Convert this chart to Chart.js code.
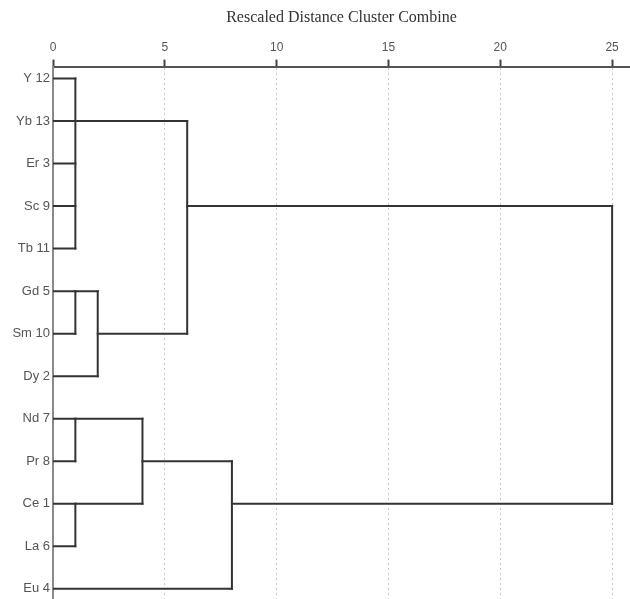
<!DOCTYPE html>
<html lang="en">
<head>
  <meta charset="UTF-8">
  <title>Dendrogram - Rescaled Distance Cluster Combine</title>
  <script src="https://cdn.jsdelivr.net/npm/chart.js"></script>
  <style>
    html, body { margin: 0; padding: 0; background: #fff; }
    #wrap { width: 630px; height: 599px; }
  </style>
</head>
<body>
  <div id="wrap"><canvas id="dendro"></canvas></div>

  <script>
    // leaves, top to bottom
    const leaves = ['Y 12', 'Yb 13', 'Er 3', 'Sc 9', 'Tb 11', 'Gd 5', 'Sm 10', 'Dy 2', 'Nd 7', 'Pr 8', 'Ce 1', 'La 6', 'Eu 4'];

    // merges: children < 13 are leaves, >= 13 are earlier merges (index - 13)
    const mergeChildren = [[0, 1, 2, 3, 4], [5, 6], [14, 7], [13, 15], [8, 9], [10, 11], [17, 18], [19, 12], [16, 20]];
    const mergeDistance = [1, 1, 2, 6, 1, 1, 4, 8, 25];
    // leaf row the merged cluster continues from
    const mergeRow = [1, 5, 6, 3, 8, 10, 9, 10, 3];

    const xTicks = [0, 5, 10, 15, 20, 25];

    const nLeaf = leaves.length;
    const lineColor = '#333';

    function rowOf(c) { return c < nLeaf ? c : mergeRow[c - nLeaf]; }
    function heightOf(c) { return c < nLeaf ? 0 : mergeDistance[c - nLeaf]; }

    const segments = [];
    mergeChildren.forEach((kids, m) => {
      const d = mergeDistance[m];
      const rows = kids.map(rowOf);
      kids.forEach(c => {
        segments.push([{ x: heightOf(c), y: rowOf(c) }, { x: d, y: rowOf(c) }]);
      });
      segments.push([{ x: d, y: Math.min(...rows) }, { x: d, y: Math.max(...rows) }]);
    });

    const datasets = segments.map(seg => ({
      data: seg,
      showLine: true,
      borderColor: lineColor,
      borderWidth: 2,
      borderCapStyle: 'square',
      pointRadius: 0,
      fill: false
    }));

    const ctx = document.getElementById('dendro').getContext('2d');
    new Chart(ctx, {
      type: 'scatter',
      data: { datasets: datasets },
      options: {
        responsive: true,
        maintainAspectRatio: false,
        animation: false,
        layout: { padding: { top: 4, left: 0, right: 0, bottom: 0 } },
        plugins: { legend: { display: false }, tooltip: { enabled: false } },
        scales: {
          x: {
            type: 'linear',
            position: 'top',
            min: 0,
            max: 25.8,
            afterBuildTicks: s => { s.ticks = xTicks.map(v => ({ value: v })); },
            ticks: {
              padding: 5,
              color: '#555',
              font: { family: 'Liberation Sans', size: 12 },
              maxRotation: 0
            },
            grid: {
              color: '#c8c8c8',
              lineWidth: 1,
              tickLength: 7,
              tickColor: '#444',
              tickWidth: 2,
              tickBorderDash: []
            },
            border: { display: true, color: '#555', width: 2, dash: [2, 3] },
            title: {
              display: true,
              text: 'Rescaled Distance Cluster Combine',
              color: '#333',
              font: { family: 'Liberation Serif', size: 16 },
              padding: { top: 4, bottom: 8 }
            }
          },
          y: {
            type: 'linear',
            reverse: true,
            min: -0.28,
            max: 12.24,
            afterBuildTicks: s => { s.ticks = leaves.map((_, i) => ({ value: i })); },
            afterFit: s => { s.width = 53; s.paddingTop = 0; s.paddingBottom = 0; },
            ticks: {
              padding: 3,
              color: '#555',
              font: { family: 'Liberation Sans', size: 13 },
              callback: v => leaves[v]
            },
            grid: { display: false, drawTicks: false },
            border: { display: true, color: '#8a8a8a', width: 2 }
          }
        }
      }
    });
  </script>
</body>
</html>
